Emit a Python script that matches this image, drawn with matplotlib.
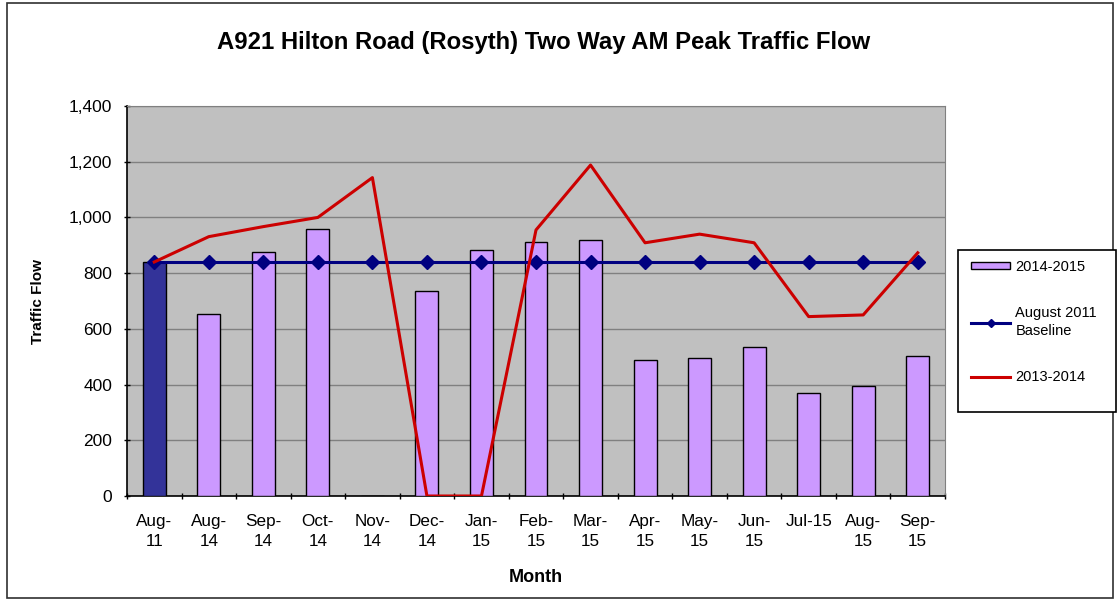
import numpy as np
import matplotlib.pyplot as plt
from matplotlib.patches import Rectangle

plt.rcParams["font.family"] = ["Liberation Sans", "DejaVu Sans"]

# chart data
months = ["Aug-\n11", "Aug-\n14", "Sep-\n14", "Oct-\n14", "Nov-\n14", "Dec-\n14",
          "Jan-\n15", "Feb-\n15", "Mar-\n15", "Apr-\n15", "May-\n15", "Jun-\n15",
          "Jul-15\n", "Aug-\n15", "Sep-\n15"]
flow_2014_2015 = [840, 655, 875, 958, 0, 736, 883, 913, 919, 490, 496, 534, 371, 395, 502]
baseline_2011 = [840] * 15
flow_2013_2014 = [840, 931, 967, 1000, 1143, 0, 0, 955, 1188, 909, 940, 909, 644, 650, 873]
y_ticks = [0, 200, 400, 600, 800, 1000, 1200, 1400]

W, H = 1120, 601


def fig_box(x0, y0, x1, y1):
    # pixel box (top-left origin) -> figure fraction rect
    return [x0 / W, 1 - y1 / H, (x1 - x0) / W, (y1 - y0) / H]


def main():
    fig = plt.figure(figsize=(W / 100, H / 100), dpi=100)
    fig.patch.set_facecolor("white")

    # outer chart border
    bx = fig_box(7, 3, 1113, 598)
    fig.patches.append(Rectangle((bx[0], bx[1]), bx[2], bx[3], transform=fig.transFigure,
                                 fill=False, edgecolor="#303030", linewidth=1.2))

    ax = fig.add_axes(fig_box(127, 106, 945, 496))
    ax.set_facecolor("#C0C0C0")

    x = np.arange(len(months))
    bar_colors = ["#333399"] + ["#CC99FF"] * (len(months) - 1)
    ax.bar(x, flow_2014_2015, width=0.42, color=bar_colors,
           edgecolor="black", linewidth=1.0, zorder=3)

    base_line, = ax.plot(x, baseline_2011, color="#000080", linewidth=2.2,
                         marker="D", markersize=7, zorder=4)
    red_line, = ax.plot(x, flow_2013_2014, color="#CC0000", linewidth=2.2, zorder=5)

    ax.set_xlim(-0.5, len(months) - 0.5)
    ax.set_ylim(0, 1400)
    ax.set_yticks(y_ticks)
    ax.set_yticklabels([f"{v:,}" for v in y_ticks], fontsize=12.5)
    ax.yaxis.grid(True, color="#808080", linewidth=1.0, zorder=0)
    ax.set_axisbelow(True)

    # category labels at centres, tick marks on boundaries
    ax.set_xticks(x)
    ax.set_xticklabels(months, fontsize=12.3, linespacing=1.45)
    ax.tick_params(axis="x", length=0, pad=13)
    ax.set_xticks(np.arange(-0.5, len(months)), minor=True)
    ax.tick_params(axis="x", which="minor", length=5, direction="inout", width=1)
    ax.tick_params(axis="y", length=5, direction="inout", width=1, pad=8)

    for side in ["top", "right"]:
        ax.spines[side].set_color("#808080")
    for side in ["left", "bottom"]:
        ax.spines[side].set_color("black")
        ax.spines[side].set_linewidth(1.2)

    ax.set_xlabel("Month", fontsize=13, fontweight="bold", labelpad=14)
    ax.set_ylabel("Traffic Flow", fontsize=11, fontweight="bold", labelpad=17)

    fig.text(544 / W, 1 - 42 / H, "A921 Hilton Road (Rosyth) Two Way AM Peak Traffic Flow",
             ha="center", va="center", fontsize=17.2, fontweight="bold")

    # legend box
    lb = fig_box(958, 250, 1116, 412)
    fig.patches.append(Rectangle((lb[0], lb[1]), lb[2], lb[3], transform=fig.transFigure,
                                 facecolor="white", edgecolor="black", linewidth=1.2,
                                 zorder=1))
    bar_handle = Rectangle((0, 0), 1, 1, facecolor="#CC99FF", edgecolor="black")
    leg = fig.legend([bar_handle, base_line, red_line],
                     ["2014-2015", "August 2011\nBaseline", "2013-2014"],
                     loc="upper left", bbox_to_anchor=(968 / W, 1 - 257 / H),
                     fontsize=10.5, frameon=False, labelspacing=2.2,
                     handlelength=2.7, handleheight=0.4, handletextpad=0.35,
                     borderpad=0.2, borderaxespad=0, markerscale=0.6)
    for t in leg.get_texts():
        t.set_linespacing(1.4)

    fig.savefig("out.png", dpi=100)


if __name__ == "__main__":
    main()
